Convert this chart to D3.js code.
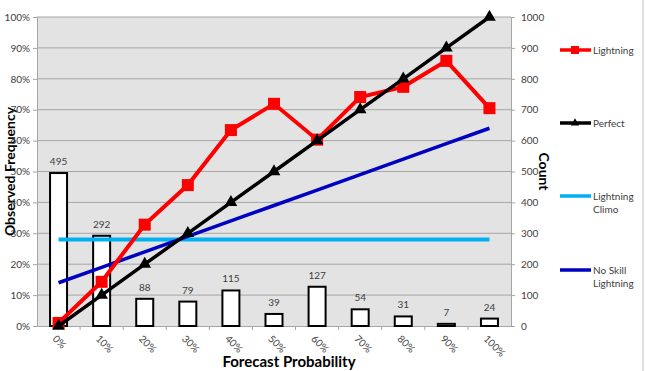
<!DOCTYPE html>
<html>
<head>
<meta charset="utf-8">
<script src="https://cdn.jsdelivr.net/npm/d3@7"></script>
<style>
  body { margin: 0; background: #fff; }
  text { font-family: Lato, "Open Sans", sans-serif; }
</style>
</head>
<body>
<div id="chart"></div>
<script>
(function () {
    var width = 645,
        height = 371;

    // data
    var categories = ["0%", "10%", "20%", "30%", "40%", "50%", "60%", "70%", "80%", "90%", "100%"];
    var lightning = [0.01, 0.143, 0.328, 0.456, 0.634, 0.719, 0.603, 0.741, 0.774, 0.858, 0.705];
    var perfect = [0, 0.1, 0.2, 0.3, 0.4, 0.5, 0.6, 0.7, 0.8, 0.9, 1.0];
    var climo = [0.28, 0.28, 0.28, 0.28, 0.28, 0.28, 0.28, 0.28, 0.28, 0.28, 0.28];
    var noSkill = [0.14, 0.19, 0.24, 0.29, 0.34, 0.39, 0.44, 0.49, 0.54, 0.59, 0.64];
    var counts = [495, 292, 88, 79, 115, 39, 127, 54, 31, 7, 24];
    var yTicks = [0, 0.1, 0.2, 0.3, 0.4, 0.5, 0.6, 0.7, 0.8, 0.9, 1.0];
    var countTicks = [0, 100, 200, 300, 400, 500, 600, 700, 800, 900, 1000];

    var plot = { left: 37, right: 511, top: 17, bottom: 326 };

    var svg = d3.select("#chart")
        .append("svg")
        .attr("width", width)
        .attr("height", height);

    var x = d3.scaleBand().domain(categories).range([plot.left, plot.right]);
    var y = d3.scaleLinear().domain([0, 1]).range([plot.bottom, plot.top]);
    var yCount = d3.scaleLinear().domain([0, 1000]).range([plot.bottom, plot.top]);

    function cx(i) { return x(categories[i]) + x.bandwidth() / 2; }

    // left title goes underneath the tick labels
    svg.append("text")
        .attr("transform", "translate(15," + (plot.top + plot.bottom) / 2 + ") rotate(-90)")
        .attr("text-anchor", "middle")
        .style("font-size", "14px")
        .style("font-weight", "bold")
        .attr("fill", "#000")
        .text("Observed Frequency");

    // plot background
    svg.append("rect")
        .attr("x", plot.left)
        .attr("y", plot.top)
        .attr("width", plot.right - plot.left)
        .attr("height", plot.bottom - plot.top)
        .attr("fill", "#e3e3e3");

    // gridlines
    svg.append("g")
        .selectAll("line")
        .data(yTicks.slice(1))
        .enter().append("line")
        .attr("x1", plot.left)
        .attr("x2", plot.right)
        .attr("y1", function (d) { return y(d); })
        .attr("y2", function (d) { return y(d); })
        .attr("stroke", "#a6a6a6")
        .attr("stroke-width", 1);

    // left axis
    var leftAxis = svg.append("g")
        .attr("transform", "translate(" + plot.left + ",0)")
        .call(d3.axisLeft(y).tickValues(yTicks).tickFormat(d3.format(".0%")).tickSize(4).tickPadding(3));
    leftAxis.select(".domain").attr("stroke", "#a6a6a6");
    leftAxis.selectAll(".tick line").attr("stroke", "#a6a6a6");
    leftAxis.selectAll("text").attr("fill", "#404040").style("font-size", "10px");

    // right axis
    var rightAxis = svg.append("g")
        .attr("transform", "translate(" + plot.right + ",0)")
        .call(d3.axisRight(yCount).tickValues(countTicks).tickFormat(d3.format("d")).tickSize(4).tickPadding(6));
    rightAxis.select(".domain").attr("stroke", "#a6a6a6");
    rightAxis.selectAll(".tick line").attr("stroke", "#a6a6a6");
    rightAxis.selectAll("text").attr("fill", "#404040").style("font-size", "10px");

    // bottom axis
    var bottomAxis = svg.append("g")
        .attr("transform", "translate(0," + plot.bottom + ")")
        .call(d3.axisBottom(x).tickSize(0));
    bottomAxis.select(".domain").attr("stroke", "#a6a6a6");
    bottomAxis.selectAll("text")
        .attr("fill", "#404040")
        .style("font-size", "10px")
        .attr("text-anchor", "start")
        .attr("x", 0)
        .attr("y", 0)
        .attr("dy", "0.35em")
        .attr("transform", "translate(-4,11) rotate(45)");
    svg.append("g")
        .selectAll("line")
        .data(categories.slice(1))
        .enter().append("line")
        .attr("x1", function (d) { return x(d); })
        .attr("x2", function (d) { return x(d); })
        .attr("y1", plot.bottom)
        .attr("y2", plot.bottom + 4)
        .attr("stroke", "#a6a6a6");

    // count bars
    var barW = 17;
    svg.append("g")
        .selectAll("rect")
        .data(counts)
        .enter().append("rect")
        .attr("x", function (d, i) { return cx(i) - barW / 2; })
        .attr("y", function (d) { return yCount(d); })
        .attr("width", barW)
        .attr("height", function (d) { return plot.bottom - yCount(d); })
        .attr("fill", "#fff")
        .attr("stroke", "#000")
        .attr("stroke-width", 2);

    svg.append("g")
        .selectAll("text")
        .data(counts)
        .enter().append("text")
        .attr("x", function (d, i) { return cx(i); })
        .attr("y", function (d) { return yCount(d) - 8; })
        .attr("text-anchor", "middle")
        .attr("fill", "#404040")
        .style("font-size", "10px")
        .text(function (d) { return d; });

    var line = d3.line()
        .x(function (d, i) { return cx(i); })
        .y(function (d) { return y(d); });

    // climo and no skill
    svg.append("path").datum(climo)
        .attr("d", line).attr("fill", "none")
        .attr("stroke", "#00b0f0").attr("stroke-width", 4);
    svg.append("path").datum(noSkill)
        .attr("d", line).attr("fill", "none")
        .attr("stroke", "#0000c0").attr("stroke-width", 3.5);

    // lightning
    svg.append("path").datum(lightning)
        .attr("d", line).attr("fill", "none")
        .attr("stroke", "#ff0000").attr("stroke-width", 4);
    svg.append("g")
        .selectAll("rect")
        .data(lightning)
        .enter().append("rect")
        .attr("x", function (d, i) { return cx(i) - 6; })
        .attr("y", function (d) { return y(d) - 6; })
        .attr("width", 12)
        .attr("height", 12)
        .attr("fill", "#ff0000");

    // perfect
    var tri = d3.symbol().type(d3.symbolTriangle).size(70);
    svg.append("path").datum(perfect)
        .attr("d", line).attr("fill", "none")
        .attr("stroke", "#000").attr("stroke-width", 3.5);
    svg.append("g")
        .selectAll("path")
        .data(perfect)
        .enter().append("path")
        .attr("d", tri)
        .attr("transform", function (d, i) { return "translate(" + cx(i) + "," + y(d) + ")"; })
        .attr("fill", "#000");

    // axis titles
    svg.append("text")
        .attr("transform", "translate(539," + (plot.top + plot.bottom) / 2 + ") rotate(90)")
        .attr("text-anchor", "middle")
        .style("font-size", "14px")
        .style("font-weight", "bold")
        .attr("fill", "#000")
        .text("Count");
    svg.append("text")
        .attr("x", 289)
        .attr("y", 367)
        .attr("text-anchor", "middle")
        .style("font-size", "15px")
        .style("font-weight", "bold")
        .attr("fill", "#000")
        .text("Forecast Probability");

    // legend
    var legendItems = [
        { name: ["Lightning"], color: "#ff0000", marker: "square", y: 50 },
        { name: ["Perfect"], color: "#000", marker: "triangle", y: 123 },
        { name: ["Lightning", "Climo"], color: "#00b0f0", marker: null, y: 196 },
        { name: ["No Skill", "Lightning"], color: "#0000c0", marker: null, y: 270 }
    ];
    var legend = svg.append("g");
    legendItems.forEach(function (it) {
        legend.append("line")
            .attr("x1", 560).attr("x2", 591)
            .attr("y1", it.y).attr("y2", it.y)
            .attr("stroke", it.color).attr("stroke-width", 3.5);
        if (it.marker === "square") {
            legend.append("rect")
                .attr("x", 571).attr("y", it.y - 4)
                .attr("width", 8).attr("height", 8)
                .attr("fill", it.color);
        } else if (it.marker === "triangle") {
            legend.append("path")
                .attr("d", d3.symbol().type(d3.symbolTriangle).size(30))
                .attr("transform", "translate(575," + it.y + ")")
                .attr("fill", it.color);
        }
        it.name.forEach(function (t, j) {
            legend.append("text")
                .attr("x", 593)
                .attr("y", it.y + 4 + j * 13)
                .attr("fill", "#404040")
                .style("font-size", "10px")
                .text(t);
        });
    });

    // chart frame edge
    svg.append("line")
        .attr("x1", 643).attr("x2", 643)
        .attr("y1", 0).attr("y2", height)
        .attr("stroke", "#bfbfbf");
})();
</script>
</body>
</html>
